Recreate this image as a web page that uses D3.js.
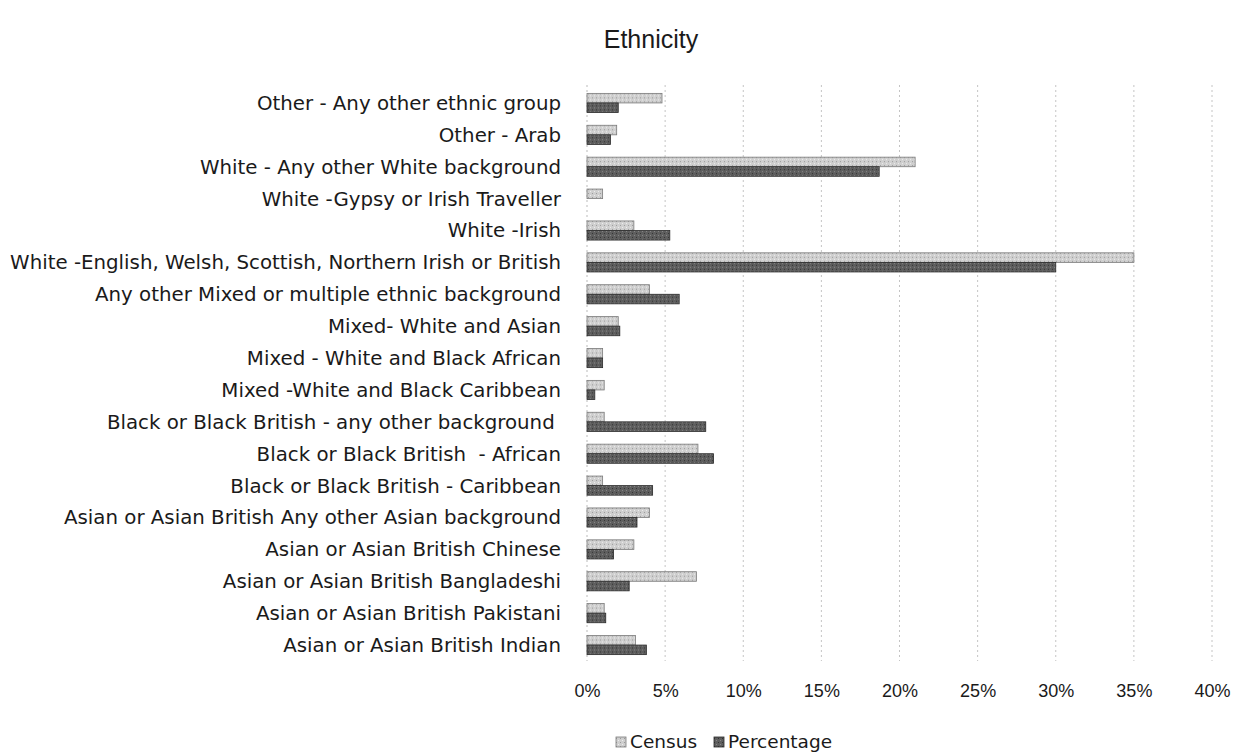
<!DOCTYPE html>
<html>
<head>
<meta charset="utf-8">
<script src="https://cdn.jsdelivr.net/npm/d3@7"></script>
<style>
  body { margin: 0; background: #fff; }
  text { font-family: "DejaVu Sans", Verdana, sans-serif; fill: #1a1a1a; }
</style>
</head>
<body>
<div id="chart"></div>
<script>
// categories listed top to bottom, as in the chart
var categories = [
  "Other - Any other ethnic group",
  "Other - Arab",
  "White - Any other White background",
  "White -Gypsy or Irish Traveller",
  "White -Irish",
  "White -English, Welsh, Scottish, Northern Irish or British",
  "Any other Mixed or multiple ethnic background",
  "Mixed- White and Asian",
  "Mixed - White and Black African",
  "Mixed -White and Black Caribbean",
  "Black or Black British - any other background ",
  "Black or Black British  - African",
  "Black or Black British - Caribbean",
  "Asian or Asian British Any other Asian background",
  "Asian or Asian British Chinese",
  "Asian or Asian British Bangladeshi",
  "Asian or Asian British Pakistani",
  "Asian or Asian British Indian"
];
var census = [4.8, 1.9, 21.0, 1.0, 3.0, 35.0, 4.0, 2.0, 1.0, 1.1, 1.1, 7.1, 1.0, 4.0, 3.0, 7.0, 1.1, 3.1];
var percentage = [2.0, 1.5, 18.7, 0, 5.3, 30.0, 5.9, 2.1, 1.0, 0.5, 7.6, 8.1, 4.2, 3.2, 1.7, 2.7, 1.2, 3.8];
var seriesNames = ["Census", "Percentage"];
var xTicks = [0, 5, 10, 15, 20, 25, 30, 35, 40];

var width = 1248, height = 755;
var margin = { top: 87, right: 36, bottom: 94, left: 587 };

var svg = d3.select("#chart").append("svg")
  .attr("width", width)
  .attr("height", height);

var x = d3.scaleLinear()
  .domain([0, 40])
  .range([margin.left, width - margin.right]);

var y = d3.scaleBand()
  .domain(categories)
  .range([margin.top, height - margin.bottom])
  .paddingInner(0.4)
  .paddingOuter(0.2);

var ySub = d3.scaleBand()
  .domain(seriesNames)
  .range([0, y.bandwidth()]);

var fills = { "Census": "#cfcfcf", "Percentage": "#5e5e5e" };
var strokes = { "Census": "#7a7a7a", "Percentage": "#2a2a2a" };

// a bit of grain like the scanned original
var defs = svg.append("defs");
seriesNames.forEach(function(s) {
  var p = defs.append("pattern")
    .attr("id", "pat" + s)
    .attr("patternUnits", "userSpaceOnUse")
    .attr("width", 4)
    .attr("height", 4);
  p.append("rect").attr("width", 4).attr("height", 4).attr("fill", fills[s]);
  p.append("rect").attr("x", 0).attr("y", 0).attr("width", 1).attr("height", 1)
    .attr("fill", s === "Census" ? "#9a9a9a" : "#333");
  p.append("rect").attr("x", 2).attr("y", 2).attr("width", 1).attr("height", 1)
    .attr("fill", s === "Census" ? "#eeeeee" : "#888");
});

// title
svg.append("text")
  .attr("x", 651)
  .attr("y", 48)
  .attr("text-anchor", "middle")
  .style("font-family", "'Liberation Sans', Arial, sans-serif")
  .style("font-size", "25px")
  .text("Ethnicity");

// gridlines
svg.append("g")
  .selectAll("line")
  .data(xTicks)
  .enter().append("line")
  .attr("x1", function(d) { return x(d); })
  .attr("x2", function(d) { return x(d); })
  .attr("y1", margin.top - 2)
  .attr("y2", height - margin.bottom)
  .attr("stroke", function(d) { return d === 0 ? "#bbbbbb" : "#c4c4c4"; })
  .attr("stroke-width", 1)
  .attr("stroke-dasharray", "2,3");

// x axis labels
var xAxis = d3.axisBottom(x)
  .tickValues(xTicks)
  .tickSize(0)
  .tickPadding(0)
  .tickFormat(function(d) { return d + "%"; });

var gx = svg.append("g")
  .attr("transform", "translate(0," + 684 + ")")
  .call(xAxis);
gx.select(".domain").remove();
gx.selectAll("text")
  .style("font-family", "'Liberation Sans', Arial, sans-serif")
  .style("font-size", "18px")
  .attr("fill", "#1a1a1a");

// category labels
svg.append("g")
  .selectAll("text")
  .data(categories)
  .enter().append("text")
  .attr("x", 561)
  .attr("y", function(d) { return y(d) + y.bandwidth() / 2; })
  .attr("dy", "0.35em")
  .attr("text-anchor", "end")
  .style("font-size", "19.8px")
  .style("white-space", "pre")
  .text(function(d) { return d; });

// bars
var rows = categories.map(function(c, i) {
  return { name: c, values: [
    { series: "Census", value: census[i] },
    { series: "Percentage", value: percentage[i] }
  ] };
});

var row = svg.append("g")
  .selectAll("g")
  .data(rows)
  .enter().append("g")
  .attr("transform", function(d) { return "translate(0," + y(d.name) + ")"; });

row.selectAll("rect")
  .data(function(d) { return d.values.filter(function(v) { return v.value > 0; }); })
  .enter().append("rect")
  .attr("x", x(0))
  .attr("y", function(d) { return ySub(d.series); })
  .attr("width", function(d) { return x(d.value) - x(0); })
  .attr("height", ySub.bandwidth())
  .attr("fill", function(d) { return "url(#pat" + d.series + ")"; })
  .attr("stroke", function(d) { return strokes[d.series]; })
  .attr("stroke-width", 0.8);

// legend
var legend = svg.append("g")
  .attr("transform", "translate(616,742)");
var legendX = { "Census": 0, "Percentage": 98 };
seriesNames.forEach(function(s) {
  var g = legend.append("g").attr("transform", "translate(" + legendX[s] + ",0)");
  g.append("rect")
    .attr("x", 0).attr("y", -5)
    .attr("width", 10).attr("height", 10)
    .attr("fill", "url(#pat" + s + ")")
    .attr("stroke", strokes[s])
    .attr("stroke-width", 0.8);
  g.append("text")
    .attr("x", 14)
    .attr("y", 0)
    .attr("dy", "0.35em")
    .style("font-size", "18.5px")
    .text(s);
});
</script>
</body>
</html>
